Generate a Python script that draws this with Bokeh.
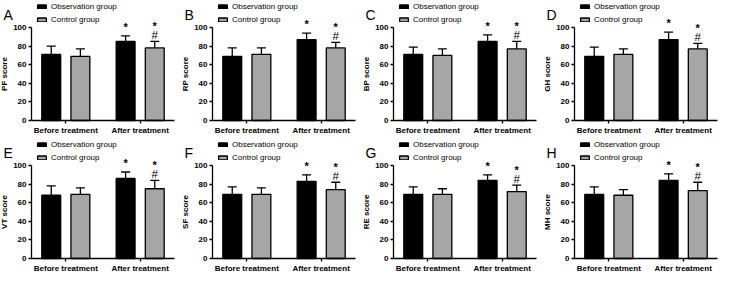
import numpy as np
from bokeh.plotting import figure
from bokeh.layouts import gridplot
from bokeh.models import (Range1d, FixedTicker, Legend, LegendItem, Label,
                          Whisker, TeeHead, ColumnDataSource)
from bokeh.core.properties import value
from bokeh.embed import file_html
from bokeh.resources import INLINE

# ---------------- data ----------------
panels = ["A", "B", "C", "D", "E", "F", "G", "H"]
ylabels = ["PF score", "RP score", "BP score", "GH score",
           "VT score", "SF score", "RE score", "MH score"]
groups = ["Before treatment", "After treatment"]
series = ["Observation group", "Control group"]

# mean values [before, after]
obs_mean = [[71, 85], [69, 87], [71, 85], [69, 87],
            [68, 86], [69, 83], [69, 84], [69, 84]]
ctrl_mean = [[69, 78], [71, 78], [70, 77], [71, 77],
             [69, 75], [69, 74], [69, 72], [68, 73]]
# standard deviations [before, after]
obs_sd = [[9, 6], [9, 7], [8, 7], [10, 8],
          [10, 7], [8, 7], [8, 6], [8, 7]]
ctrl_sd = [[8, 7], [7, 6], [7, 8], [6, 6],
           [7, 9], [7, 8], [6, 7], [6, 9]]
# significance marks [before, after]
obs_marks = [["", "*"]] * 8
ctrl_marks_hash = [["", "#"]] * 8
ctrl_marks_star = [["", "*"]] * 8

FONT = "Liberation Sans"
W, H = 181, 138
AX_LEFT = 31      # px from figure left to y axis
AX_RIGHT = 7      # px from axis end to figure right
AX_TOP = 27       # px from figure top to y=100
AX_BOTTOM = 18    # px from x axis to figure bottom
X0, X1 = -0.4615, 1.4615
PPX = (W - AX_LEFT - AX_RIGHT) / (X1 - X0)
PPY = (H - AX_TOP - AX_BOTTOM) / 100.0
OFF = 0.196
BW = 0.254
GRAY = "#a6a6a6"


def make_panel(i):
    xr = Range1d(X0 - AX_LEFT / PPX, X1 + AX_RIGHT / PPX)
    yr = Range1d(-AX_BOTTOM / PPY, 100 + AX_TOP / PPY)
    p = figure(width=W, height=H, x_range=xr, y_range=yr,
               output_backend="svg", toolbar_location=None,
               min_border=0, min_border_left=0, min_border_right=0,
               min_border_top=0, min_border_bottom=0)
    p.outline_line_color = None
    p.grid.visible = False
    p.background_fill_color = "white"
    p.border_fill_color = "white"

    xi = np.arange(len(groups))
    xo = xi - OFF
    xc = xi + OFF
    om = np.array(obs_mean[i], dtype=float)
    cm = np.array(ctrl_mean[i], dtype=float)
    osd = np.array(obs_sd[i], dtype=float)
    csd = np.array(ctrl_sd[i], dtype=float)

    src_o = ColumnDataSource(dict(x=xo, top=om, up=om + osd, m=obs_marks[i]))
    src_c = ColumnDataSource(dict(x=xc, top=cm, up=cm + csd,
                                  h=ctrl_marks_hash[i], s=ctrl_marks_star[i]))

    for src in (src_o, src_c):
        w = Whisker(source=src, base="x", lower="top", upper="up",
                    lower_head=None,
                    upper_head=TeeHead(size=9, line_width=1.3, line_color="black"),
                    line_width=1.3, line_color="black")
        p.add_layout(w)

    r_o = p.vbar(x="x", top="top", width=BW, source=src_o, fill_color="black",
                 line_color="black", line_width=1.3)
    r_c = p.vbar(x="x", top="top", width=BW, source=src_c, fill_color=GRAY,
                 line_color="black", line_width=1.3)

    p.text(x="x", y="up", text="m", source=src_o, text_font=value(FONT),
           text_font_size="11px", text_font_style="bold", text_align="center",
           text_baseline="middle", y_offset=-9, text_color="black")
    p.text(x="x", y="up", text="h", source=src_c, text_font=value(FONT),
           text_font_size="11.5px", text_align="center",
           text_baseline="middle", y_offset=-6, text_color="black")
    p.text(x="x", y="up", text="s", source=src_c, text_font=value(FONT),
           text_font_size="11px", text_font_style="bold", text_align="center",
           text_baseline="middle", y_offset=-15, text_color="black")

    # axes
    ya = p.yaxis[0]
    ya.fixed_location = X0
    ya.bounds = (0, 100)
    ya.ticker = FixedTicker(ticks=[0, 20, 40, 60, 80, 100])
    ya.minor_tick_line_color = None
    ya.major_tick_out = 3
    ya.major_tick_in = 0
    ya.axis_line_width = 1.3
    ya.major_tick_line_width = 1.3
    ya.major_label_standoff = 2
    ya.major_label_text_font = FONT
    ya.major_label_text_font_style = "bold"
    ya.major_label_text_font_size = "8px"
    ya.major_label_text_color = "black"
    ya.axis_label = ylabels[i]
    ya.axis_label_text_font = FONT
    ya.axis_label_text_font_style = "bold"
    ya.axis_label_text_font_size = "8px"
    ya.axis_label_standoff = 1
    ya.axis_label_text_color = "black"

    xa = p.xaxis[0]
    xa.fixed_location = 0
    xa.bounds = (X0, X1)
    xa.ticker = FixedTicker(ticks=list(xi))
    xa.major_label_overrides = {int(k): g for k, g in zip(xi, groups)}
    xa.minor_tick_line_color = None
    xa.major_tick_out = 3
    xa.major_tick_in = 0
    xa.axis_line_width = 1.3
    xa.major_tick_line_width = 1.3
    xa.major_label_standoff = 2
    xa.major_label_text_font = FONT
    xa.major_label_text_font_style = "bold"
    xa.major_label_text_font_size = "8px"
    xa.major_label_text_color = "black"

    legend = Legend(items=[LegendItem(label=series[0], renderers=[r_o]),
                           LegendItem(label=series[1], renderers=[r_c])],
                    location=(AX_LEFT + 5, H - 2 - 22), orientation="vertical",
                    glyph_width=11, glyph_height=5, label_height=9,
                    label_standoff=4, spacing=4, padding=0, margin=0,
                    border_line_color=None, background_fill_alpha=0,
                    label_text_font=FONT, label_text_font_size="8px",
                    label_text_color="black")
    p.add_layout(legend)

    p.add_layout(Label(x=3, y=H - 14, x_units="screen", y_units="screen",
                       text=panels[i], text_font=FONT, text_font_size="14px",
                       text_baseline="alphabetic", text_color="black"))
    return p


figs = [make_panel(i) for i in range(8)]
grid = gridplot([figs[:4], figs[4:]], toolbar_location=None)

open("out.html", "w").write(file_html(grid, INLINE))
